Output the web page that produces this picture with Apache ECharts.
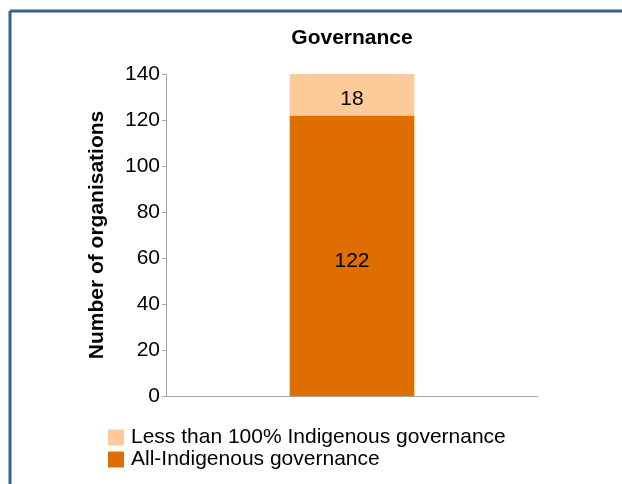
<!DOCTYPE html>
<html>
<head>
<meta charset="utf-8">
<script src="https://cdn.jsdelivr.net/npm/echarts@6/dist/echarts.min.js"></script>
<style>
  html, body { margin: 0; padding: 0; background: #fff; }
  #chart { width: 622px; height: 484px; }
</style>
</head>
<body>
<div id="chart"></div>
<script>
const categories = ['Governance'];
const allIndigenous = [122];
const lessThan100 = [18];
const yTicks = { min: 0, max: 140, interval: 20 };

const font = 'Liberation Sans, Arial, sans-serif';
const chart = echarts.init(document.getElementById('chart'));

chart.setOption({
  animation: false,
  backgroundColor: '#ffffff',
  title: {
    text: 'Governance',
    left: 352, top: 28, textAlign: 'center', padding: 0,
    textStyle: { fontFamily: font, fontSize: 21, fontWeight: 'bold', color: '#000' }
  },
  legend: {
    orient: 'vertical',
    left: 108, top: 427, padding: 0,
    itemWidth: 16, itemHeight: 16, itemGap: 1,
    icon: 'rect',
    data: ['Less than 100% Indigenous governance', 'All-Indigenous governance'],
    textStyle: { fontFamily: font, fontSize: 21, color: '#000', padding: [0, 0, 0, 2] }
  },
  grid: { left: 166, right: 84, top: 74, bottom: 88, containLabel: false },
  xAxis: {
    type: 'category',
    data: categories,
    axisLine: { lineStyle: { color: '#a6a6a6', width: 1 } },
    axisTick: { show: false },
    axisLabel: { show: false }
  },
  yAxis: {
    type: 'value',
    min: yTicks.min, max: yTicks.max, interval: yTicks.interval,
    name: 'Number of organisations',
    nameLocation: 'middle',
    nameGap: 58,
    nameTextStyle: { fontFamily: font, fontSize: 21, fontWeight: 'bold', color: '#000' },
    axisLine: { show: true, lineStyle: { color: '#a6a6a6', width: 1 } },
    axisTick: { show: true, length: 4, lineStyle: { color: '#a6a6a6' } },
    axisLabel: { fontFamily: font, fontSize: 21, color: '#000', margin: 6 },
    splitLine: { show: false }
  },
  series: [
    {
      name: 'All-Indigenous governance',
      type: 'bar', stack: 'g',
      data: allIndigenous,
      barWidth: '33.5%',
      itemStyle: { color: '#de6e00' },
      label: { show: true, position: 'inside', offset: [0, 6], fontFamily: font, fontSize: 21, color: '#000' }
    },
    {
      name: 'Less than 100% Indigenous governance',
      type: 'bar', stack: 'g',
      data: lessThan100,
      barWidth: '33.5%',
      itemStyle: { color: '#ffca99' },
      label: { show: true, position: 'inside', offset: [0, 5], fontFamily: font, fontSize: 21, color: '#000' }
    }
  ],
  graphic: [
    { type: 'line', shape: { x1: 10, y1: 11, x2: 622, y2: 11 }, style: { stroke: '#3a5f95', lineWidth: 3 } },
    { type: 'line', shape: { x1: 10, y1: 11, x2: 10, y2: 484 }, style: { stroke: '#3a5f95', lineWidth: 3 } }
  ]
});
</script>
</body>
</html>
